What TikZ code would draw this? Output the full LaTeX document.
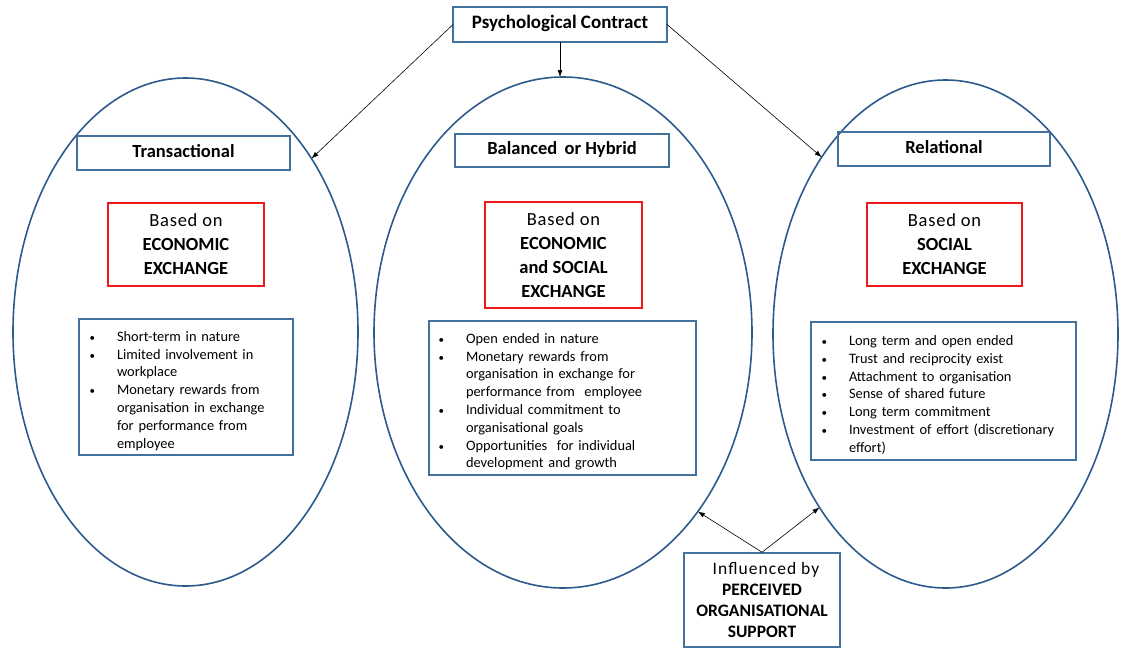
\documentclass[tikz,border=0pt]{standalone}
\usepackage{fontspec}
\setmainfont{Carlito}
\newfontfamily\spacedfont{Carlito}[LetterSpace=4]
\newfontfamily\widefont{Carlito}[LetterSpace=6]
\usetikzlibrary{shapes.geometric,arrows.meta}

\definecolor{ovalblue}{RGB}{44,90,140}
\definecolor{boxblue}{RGB}{65,113,156}
\definecolor{basisred}{RGB}{240,24,24}

% bullet item with hanging indent
\newlength\bulind
\setlength\bulind{28pt}
\newcommand\bitem[1]{\par\hangindent=\bulind\hangafter=1\noindent
  \makebox[\bulind][l]{\hspace{0.5pt}{\fontsize{11}{11}\selectfont\textbullet}}#1}

\begin{document}
\begin{tikzpicture}[x=1pt,y=-1pt,
  oval/.style={ellipse, draw=ovalblue, line width=1.6pt, inner sep=0pt, outer sep=0pt},
  headbox/.style={rectangle, draw=boxblue, line width=1.5pt, inner sep=0pt, outer sep=0pt,
    font=\fontsize{18.5}{22}\selectfont\bfseries, text height=12pt, text depth=4pt},
  basisbox/.style={rectangle, draw=basisred, line width=1.3pt, inner sep=0pt, align=center,
    font=\fontsize{18.5}{24}\selectfont},
  listbox/.style={rectangle, draw=boxblue, line width=1.5pt, inner sep=0pt, align=left,
    font=\fontsize{14.4}{17.8}\selectfont},
  link/.style={draw=black, line width=0.6pt, -{Latex[length=7pt,width=5pt]}}
]
\useasboundingbox (0,0) rectangle (1122,648);

% the three contract types
\node[oval, minimum width=345pt, minimum height=508pt] (lov) at (185.5,332) {};
\node[oval, minimum width=378pt, minimum height=511pt] (mov) at (563,332.5) {};
\node[oval, minimum width=345pt, minimum height=508pt] (rov) at (945.5,334) {};

% title
\node[headbox, minimum width=214pt, minimum height=35pt,
  font=\fontsize{19}{22}\selectfont\bfseries, text height=12.5pt, text depth=4.5pt]
  (pc) at (560,24.5) {Psychological Contract};

% headings
\node[headbox, minimum width=213pt, minimum height=34pt] (lhead) at (183.5,153) {Transactional};
\node[headbox, minimum width=214pt, minimum height=33pt] (mhead) at (562,150.5) {Balanced\hspace{3pt} or Hybrid};
\node[headbox, minimum width=212pt, minimum height=34pt] (rhead) at (944,149) {Relational};

% basis of exchange
\node[basisbox, minimum width=156pt, minimum height=83pt] (lbasis) at (186,244.5)
  {{\spacedfont Based on}\\\textbf{ECONOMIC}\\\textbf{EXCHANGE}};
\node[basisbox, minimum width=157pt, minimum height=106pt] (mbasis) at (563.5,255)
  {{\spacedfont Based on}\\\textbf{ECONOMIC}\\\textbf{and SOCIAL}\\\textbf{EXCHANGE}};
\node[basisbox, minimum width=155pt, minimum height=83pt] (rbasis) at (944.5,244.5)
  {{\spacedfont Based on}\\\textbf{SOCIAL}\\\textbf{EXCHANGE}};

% characteristics
\node[listbox, minimum width=214pt, minimum height=136pt, text width=194pt] (llist) at (186,387)
  {\bitem{Short-term in nature}%
   \bitem{Limited involvement in\newline workplace}%
   \bitem{Monetary rewards from\newline organisation in exchange\newline for performance from\newline employee}\par};
\node[listbox, minimum width=267pt, minimum height=154pt, text width=249pt] (mlist) at (562.5,398)
  {\bitem{Open ended in nature}%
   \bitem{Monetary rewards from\newline organisation in exchange for\newline performance from\ \ employee}%
   \bitem{Individual commitment to\newline organisational goals}%
   \bitem{Opportunities\ \ for individual\newline development and growth}\par};
\node[listbox, minimum width=265pt, minimum height=138pt, text width=245pt] (rlist) at (943.5,391)
  {\bitem{Long term and open ended}%
   \bitem{Trust and reciprocity exist}%
   \bitem{Attachment to organisation}%
   \bitem{Sense of shared future}%
   \bitem{Long term commitment}%
   \bitem{Investment of effort (discretionary\newline effort)}\par};

% moderator
\node[rectangle, draw=boxblue, line width=1.5pt, inner sep=0pt, align=center,
  minimum width=156pt, minimum height=94pt, font=\fontsize{17.5}{21.3}\selectfont]
  (pos) at (762,600)
  {\hspace*{8pt}{\widefont Influenced by}\\\textbf{PERCEIVED}\\\textbf{ORGANISATIONAL}\\\textbf{SUPPORT}};

% connectors
\draw[link] (pc.west) -- (lov.54.9);
\draw[link] (pc.south) -- (pc.south |- mov.north);
\draw[link] (pc.east) -- (rov.125.3);
\draw[link] (pos.north) -- (mov.307.8);
\draw[link] (pos.north) -- (rov.234.35);
\end{tikzpicture}
\end{document}
